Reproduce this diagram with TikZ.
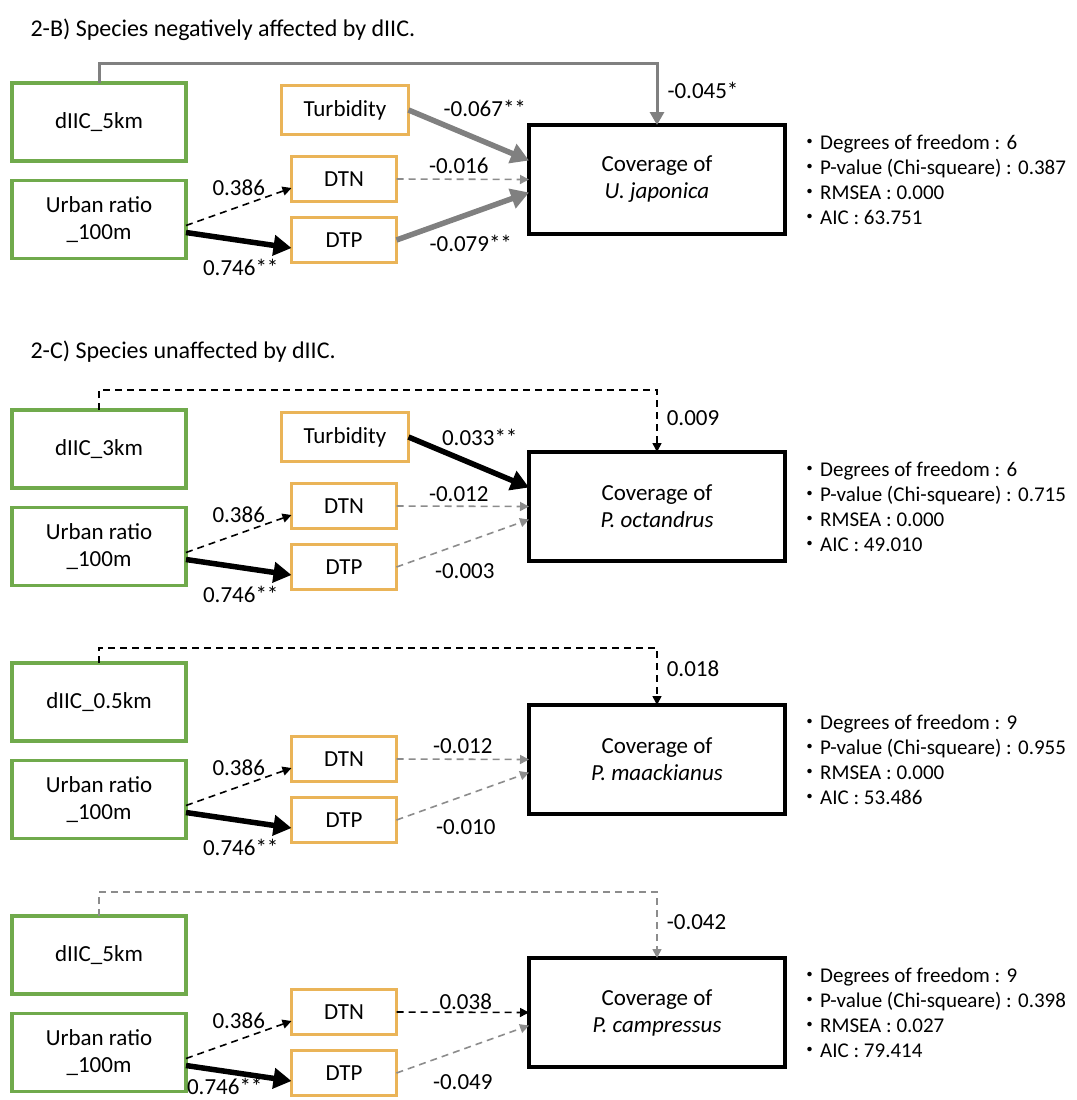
\documentclass[tikz,border=0pt]{standalone}
\usepackage{fontspec}
\setmainfont{Carlito}
\newfontfamily\cjk{Noto Sans CJK JP}
\usetikzlibrary{arrows.meta,calc}
\definecolor{dgreen}{RGB}{112,170,76}
\definecolor{dgold}{RGB}{234,180,88}
\definecolor{midgray}{RGB}{128,128,128}
\definecolor{litgray}{RGB}{140,140,140}
\newcommand{\boxfont}{\fontsize{23}{27}\selectfont}
\newcommand{\ttlfont}{\fontsize{24}{28}\selectfont}
\newcommand{\lblfont}{\fontsize{23}{27}\selectfont}
\newcommand{\statfont}{\fontsize{21}{25}\selectfont}
\newcommand{\dotb}{{\cjk ・}}
\tikzset{
  gbox/.style={draw=dgreen, line width=3.5pt, minimum width=174pt, minimum height=78pt, align=center, font=\boxfont, inner sep=1pt, outer sep=0pt},
  obox/.style={draw=dgold, line width=3.5pt, minimum width=105pt, minimum height=45pt, font=\boxfont, inner sep=1pt, outer sep=0pt},
  tbox/.style={obox, minimum width=127pt, minimum height=49pt},
  cbox/.style={draw=black, line width=4pt, minimum width=256pt, minimum height=109pt, align=center, font=\boxfont, outer sep=0pt},
  stat/.style={anchor=west, align=left, font=\statfont, inner sep=0pt},
  lbl/.style={font=\lblfont, inner sep=1pt, text=black},
  sigarr/.style={line width=5.5pt, -{Triangle[length=18pt,width=20pt]}},
  toparr/.style={line width=3pt, -{Triangle[length=13pt,width=14pt]}},
  nsarr/.style={line width=1.6pt, dash pattern=on 7pt off 5pt, -{Triangle[length=9pt,width=9pt]}},
}
\begin{document}
\begin{tikzpicture}[x=1pt, y=-1pt]
  \useasboundingbox (0,0) rectangle (1076,1100);

  % 2-B
  \node[anchor=west, font=\ttlfont] (hB) at (27,30) {2-B) Species negatively affected by dIIC.};
  \node[gbox] (d1) at (99,122) {dIIC\_5km};
  \node[gbox] (u1) at (99,219.5) {Urban ratio\\\_100m};
  \node[tbox] (t1) at (345,110) {Turbidity};
  \node[obox] (n1) at (344,179) {DTN};
  \node[obox] (p1) at (344,240) {DTP};
  \node[cbox] (c1) at (657,179.5) {Coverage of\\\textit{U. japonica}};
  \node[stat] (s1) at ($(c1.east)+(14,0)$) {\dotb Degrees of freedom : 6\\\dotb P-value (Chi-squeare) : 0.387\\\dotb RMSEA : 0.000\\\dotb AIC : 63.751};
  \draw[toparr, midgray] (d1.north) -- ++(0,-20) -| (c1.north) node[lbl, pos=0.725, anchor=west, xshift=8pt] {-0.045*};
  \draw[nsarr] ([yshift=-6pt]u1.east) -- ([yshift=-9pt]n1.west) node[lbl, midway, yshift=19pt] {0.386};
  \draw[sigarr] ([yshift=-13pt]u1.east) -- ([yshift=-8pt]p1.west) node[lbl, midway, xshift=2pt, yshift=-27pt] {0.746**};
  \draw[sigarr, midgray] (t1.east) -- ([yshift=19pt]c1.west) node[lbl, midway, xshift=16pt, yshift=27pt] {-0.067**};
  \draw[nsarr, litgray] (n1.east) -- (c1.west) node[lbl, midway, xshift=-4pt, yshift=13pt] {-0.016};
  \draw[sigarr, midgray] (p1.east) -- ([yshift=-13pt]c1.west) node[lbl, midway, xshift=8pt, yshift=-27pt] {-0.079**};

  % 2-C
  \node[anchor=west, font=\ttlfont] (hC) at (27,352) {2-C) Species unaffected by dIIC.};

  % P. octandrus
  \node[gbox] (d2) at (99,449) {dIIC\_3km};
  \node[gbox] (u2) at (99,546.5) {Urban ratio\\\_100m};
  \node[tbox] (t2) at (345,437) {Turbidity};
  \node[obox] (n2) at (344,506) {DTN};
  \node[obox] (p2) at (344,567) {DTP};
  \node[cbox] (c2) at (657,506.5) {Coverage of\\\textit{P. octandrus}};
  \node[stat] (s2) at ($(c2.east)+(14,0)$) {\dotb Degrees of freedom : 6\\\dotb P-value (Chi-squeare) : 0.715\\\dotb RMSEA : 0.000\\\dotb AIC : 49.010};
  \draw[nsarr] (d2.north) -- ++(0,-20) -| (c2.north) node[lbl, pos=0.725, anchor=west, xshift=8pt] {0.009};
  \draw[nsarr] ([yshift=-6pt]u2.east) -- ([yshift=-9pt]n2.west) node[lbl, midway, yshift=19pt] {0.386};
  \draw[sigarr] ([yshift=-13pt]u2.east) -- ([yshift=-8pt]p2.west) node[lbl, midway, xshift=2pt, yshift=-27pt] {0.746**};
  \draw[sigarr] (t2.east) -- ([yshift=19pt]c2.west) node[lbl, midway, xshift=11pt, yshift=25pt] {0.033**};
  \draw[nsarr, litgray] (n2.east) -- (c2.west) node[lbl, midway, xshift=-4pt, yshift=12pt] {-0.012};
  \draw[nsarr, litgray] (p2.east) -- ([yshift=-13pt]c2.west) node[lbl, midway, xshift=2pt, yshift=-28pt] {-0.003};

  % P. maackianus
  \node[gbox] (d3) at (99,702) {dIIC\_0.5km};
  \node[gbox] (u3) at (99,799.5) {Urban ratio\\\_100m};
  \node[obox] (n3) at (344,759) {DTN};
  \node[obox] (p3) at (344,820) {DTP};
  \node[cbox] (c3) at (657,759.5) {Coverage of\\\textit{P. maackianus}};
  \node[stat] (s3) at ($(c3.east)+(14,0)$) {\dotb Degrees of freedom : 9\\\dotb P-value (Chi-squeare) : 0.955\\\dotb RMSEA : 0.000\\\dotb AIC : 53.486};
  \draw[nsarr] (d3.north) -- ++(0,-15) -| (c3.north) node[lbl, pos=0.68, anchor=west, xshift=8pt] {0.018};
  \draw[nsarr] ([yshift=-6pt]u3.east) -- ([yshift=-9pt]n3.west) node[lbl, midway, yshift=19pt] {0.386};
  \draw[sigarr] ([yshift=-13pt]u3.east) -- ([yshift=-8pt]p3.west) node[lbl, midway, xshift=2pt, yshift=-27pt] {0.746**};
  \draw[nsarr, litgray] (n3.east) -- (c3.west) node[lbl, midway, yshift=13pt] {-0.012};
  \draw[nsarr, litgray] (p3.east) -- ([yshift=-13pt]c3.west) node[lbl, midway, xshift=3pt, yshift=-31pt] {-0.010};

  % P. campressus
  \node[gbox] (d4) at (99,955) {dIIC\_5km};
  \node[gbox] (u4) at (99,1052.5) {Urban ratio\\\_100m};
  \node[obox] (n4) at (344,1012) {DTN};
  \node[obox] (p4) at (344,1073) {DTP};
  \node[cbox] (c4) at (657,1012.5) {Coverage of\\\textit{P. campressus}};
  \node[stat] (s4) at ($(c4.east)+(14,0)$) {\dotb Degrees of freedom : 9\\\dotb P-value (Chi-squeare) : 0.398\\\dotb RMSEA : 0.027\\\dotb AIC : 79.414};
  \draw[nsarr, litgray] (d4.north) -- ++(0,-24) -| (c4.north) node[lbl, pos=0.725, anchor=west, xshift=8pt] {-0.042};
  \draw[nsarr] ([yshift=-6pt]u4.east) -- ([yshift=-9pt]n4.west) node[lbl, midway, yshift=19pt] {0.386};
  \draw[sigarr] ([yshift=-13pt]u4.east) -- ([yshift=-8pt]p4.west) node[lbl, midway, xshift=-14pt, yshift=-13pt] {0.746**};
  \draw[nsarr] (n4.east) -- (c4.west) node[lbl, midway, xshift=3pt, yshift=11pt] {0.038};
  \draw[nsarr, litgray] (p4.east) -- ([yshift=-13pt]c4.west) node[lbl, midway, yshift=-33pt] {-0.049};
\end{tikzpicture}
\end{document}
